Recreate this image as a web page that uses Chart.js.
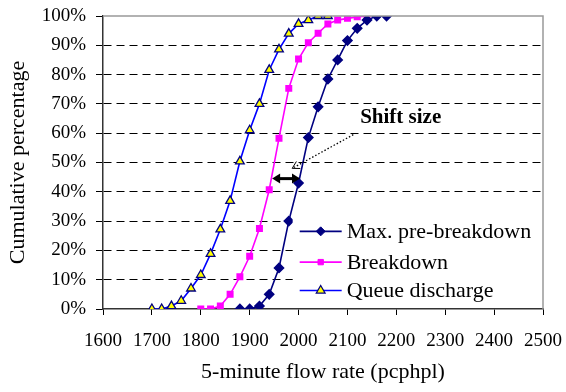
<!DOCTYPE html>
<html><head><meta charset="utf-8">
<script src="https://cdn.jsdelivr.net/npm/chart.js@4/dist/chart.umd.min.js"></script>
<style>html,body{margin:0;padding:0;background:#fff}#wrap{width:566px;height:392px}</style>
</head><body><div id="wrap"><canvas id="c" width="566" height="392"></canvas></div>
<script>
const maxPreX = [1880,1900,1920,1940,1960,1980,2000,2020,2040,2060,2080,2100,2120,2140,2160,2180];
const maxPreY = [0,0,1,5,14,30,43,58.5,69,78.5,85,91.6,95.8,98.6,100,100];
const brkX = [1800,1820,1840,1860,1880,1900,1920,1940,1960,1980,2000,2020,2040,2060,2080,2100,2120,2140];
const brkY = [0,0,1,5,11,18,27.5,40.7,58.3,75.3,85.3,90.9,94.1,97.3,98.6,99.2,99.7,100];
const qdX = [1700,1720,1740,1760,1780,1800,1820,1840,1860,1880,1900,1920,1940,1960,1980,2000,2020,2040,2060];
const qdY = [0,0,1,2.8,7,11.6,18.8,27.2,36.9,50.4,61,70,81.6,88.6,94,97.3,98.6,100,100];
const seriesNames = ['Max. pre-breakdown','Breakdown','Queue discharge'];
const xTicks = [1600,1700,1800,1900,2000,2100,2200,2300,2400,2500];
const yTicks = [0,10,20,30,40,50,60,70,80,90,100];
const annotText = 'Shift size';
const shiftArrow = {x1:1946, x2:2003, y:44.5};
const pointer = {fromX:2112, fromY:59.5, toX:1987, toY:48};
const labelPos = {x:2126, y:65.5};

const FONT = 'Liberation Serif';
const zip = (xs, ys) => xs.map((x,i)=>({x, y:ys[i]}));

const datasets = [
  {label:seriesNames[0], data:zip(maxPreX,maxPreY), borderColor:'#000080', backgroundColor:'#000080',
   pointStyle:'rectRot', pointRadius:4.5, pointBorderColor:'#000080', borderWidth:1.6},
  {label:seriesNames[1], data:zip(brkX,brkY), borderColor:'#FF00FF', backgroundColor:'#FF00FF',
   pointStyle:'rect', pointRadius:3.8, pointBorderColor:'#FF00FF', borderWidth:1.6},
  {label:seriesNames[2], data:zip(qdX,qdY), borderColor:'#0000FF', backgroundColor:'#FFFF00',
   pointStyle:'triangle', pointRadius:5, pointBorderColor:'#000080', pointBorderWidth:1.3, borderWidth:1.6},
];

function arrowHead(ctx, x, y, ang, len, wid, fill){
  ctx.beginPath();
  ctx.moveTo(x, y);
  ctx.lineTo(x - len*Math.cos(ang) + wid*Math.sin(ang), y - len*Math.sin(ang) - wid*Math.cos(ang));
  if(fill){
    ctx.lineTo(x - len*Math.cos(ang) - wid*Math.sin(ang), y - len*Math.sin(ang) + wid*Math.cos(ang));
    ctx.closePath(); ctx.fill();
  } else {
    ctx.moveTo(x, y);
    ctx.lineTo(x - len*Math.cos(ang) - wid*Math.sin(ang), y - len*Math.sin(ang) + wid*Math.cos(ang));
    ctx.stroke();
  }
}

const extras = {
  id:'extras',
  afterDatasetsDraw(chart){
    const {ctx, chartArea:ca, scales:{x, y}} = chart;
    ctx.save();
    ctx.strokeStyle = '#999'; ctx.lineWidth = 1.5;
    ctx.beginPath(); ctx.moveTo(ca.left, ca.top); ctx.lineTo(ca.right, ca.top); ctx.lineTo(ca.right, ca.bottom); ctx.stroke();
    // legend
    const lx = x.getPixelForValue(1988), ly = y.getPixelForValue(33);
    ctx.fillStyle = '#fff';
    ctx.fillRect(lx, ly, ca.right - lx - 1, ca.bottom - ly - 1);
    const rows = [y.getPixelForValue(26.5), y.getPixelForValue(16), y.getPixelForValue(6.3)];
    ctx.font = '22px "' + FONT + '"'; ctx.textBaseline = 'middle'; ctx.textAlign = 'left';
    chart.data.datasets.forEach((ds, i) => {
      const yy = rows[i], x0 = lx + 7, x1 = lx + 49;
      ctx.strokeStyle = ds.borderColor; ctx.lineWidth = 1.6;
      ctx.beginPath(); ctx.moveTo(x0, yy); ctx.lineTo(x1, yy); ctx.stroke();
      ctx.fillStyle = ds.backgroundColor; ctx.strokeStyle = ds.pointBorderColor; ctx.lineWidth = ds.pointBorderWidth || 1;
      Chart.helpers.drawPoint(ctx, {pointStyle: ds.pointStyle, radius: ds.pointRadius, borderWidth: ds.pointBorderWidth || 1}, (x0+x1)/2, yy);
      ctx.fillStyle = '#000';
      ctx.fillText(ds.label, x1 + 5, yy + 1);
    });
    // shift arrow
    const ax1 = x.getPixelForValue(shiftArrow.x1), ax2 = x.getPixelForValue(shiftArrow.x2), ay = y.getPixelForValue(shiftArrow.y);
    ctx.strokeStyle = '#000'; ctx.fillStyle = '#000'; ctx.lineWidth = 3;
    ctx.beginPath(); ctx.moveTo(ax1 + 5, ay); ctx.lineTo(ax2 - 5, ay); ctx.stroke();
    arrowHead(ctx, ax1, ay, Math.PI, 8, 5, true);
    arrowHead(ctx, ax2, ay, 0, 8, 5, true);
    // pointer dotted
    const px1 = x.getPixelForValue(pointer.fromX), py1 = y.getPixelForValue(pointer.fromY);
    const px2 = x.getPixelForValue(pointer.toX), py2 = y.getPixelForValue(pointer.toY);
    ctx.lineWidth = 1.3; ctx.setLineDash([1.5, 2]);
    ctx.beginPath(); ctx.moveTo(px1, py1); ctx.lineTo(px2, py2); ctx.stroke();
    ctx.setLineDash([]);
    ctx.lineWidth = 1;
    arrowHead(ctx, px2, py2, Math.atan2(py2 - py1, px2 - px1), 7, 4, false);
    // label
    ctx.font = 'bold 21px "' + FONT + '"'; ctx.textBaseline = 'middle';
    ctx.fillText(annotText, x.getPixelForValue(labelPos.x), y.getPixelForValue(labelPos.y));
    ctx.restore();
  }
};

new Chart(document.getElementById('c'), {
  type:'line',
  data:{datasets},
  options:{
    responsive:false, animation:false, devicePixelRatio:1,
    layout:{padding:{left:0, right:23, top:16, bottom:0}},
    plugins:{legend:{display:false}, tooltip:{enabled:false}},
    elements:{line:{tension:0}},
    scales:{
      x:{type:'linear', min:1600, max:2500,
        afterBuildTicks:(s)=>{s.ticks = xTicks.map(v=>({value:v}));},
        afterFit:(s)=>{s.height = 83; s.paddingLeft = 0; s.paddingRight = 0;},
        ticks:{color:'#000', font:{family:FONT, size:19}, padding:15, maxRotation:0, callback:(v)=>String(v)},
        grid:{drawOnChartArea:false, drawTicks:true, tickLength:6, tickColor:'#000'},
        border:{color:'#333', width:1.5},
        title:{display:true, text:'5-minute flow rate (pcphpl)', color:'#000', font:{family:FONT, size:22}, padding:{top:0, bottom:7}}
      },
      y:{min:0, max:100,
        afterBuildTicks:(s)=>{s.ticks = yTicks.map(v=>({value:v}));},
        afterFit:(s)=>{s.width = 103; s.paddingTop = 0; s.paddingBottom = 0;},
        ticks:{color:'#000', font:{family:FONT, size:19}, padding:10, callback:(v)=>v+'%'},
        grid:{color:(c)=> (c.tick && (c.tick.value===0 || c.tick.value===100)) ? 'rgba(0,0,0,0)' : '#000', tickColor:'#000', tickLength:7, lineWidth:1},
        border:{color:'#333', width:1.5, dash:[8,5]},
        title:{display:true, text:'Cumulative percentage', color:'#000', font:{family:FONT, size:22}, padding:{top:5,bottom:0}}
      }
    }
  },
  plugins:[extras]
});
</script></body></html>
